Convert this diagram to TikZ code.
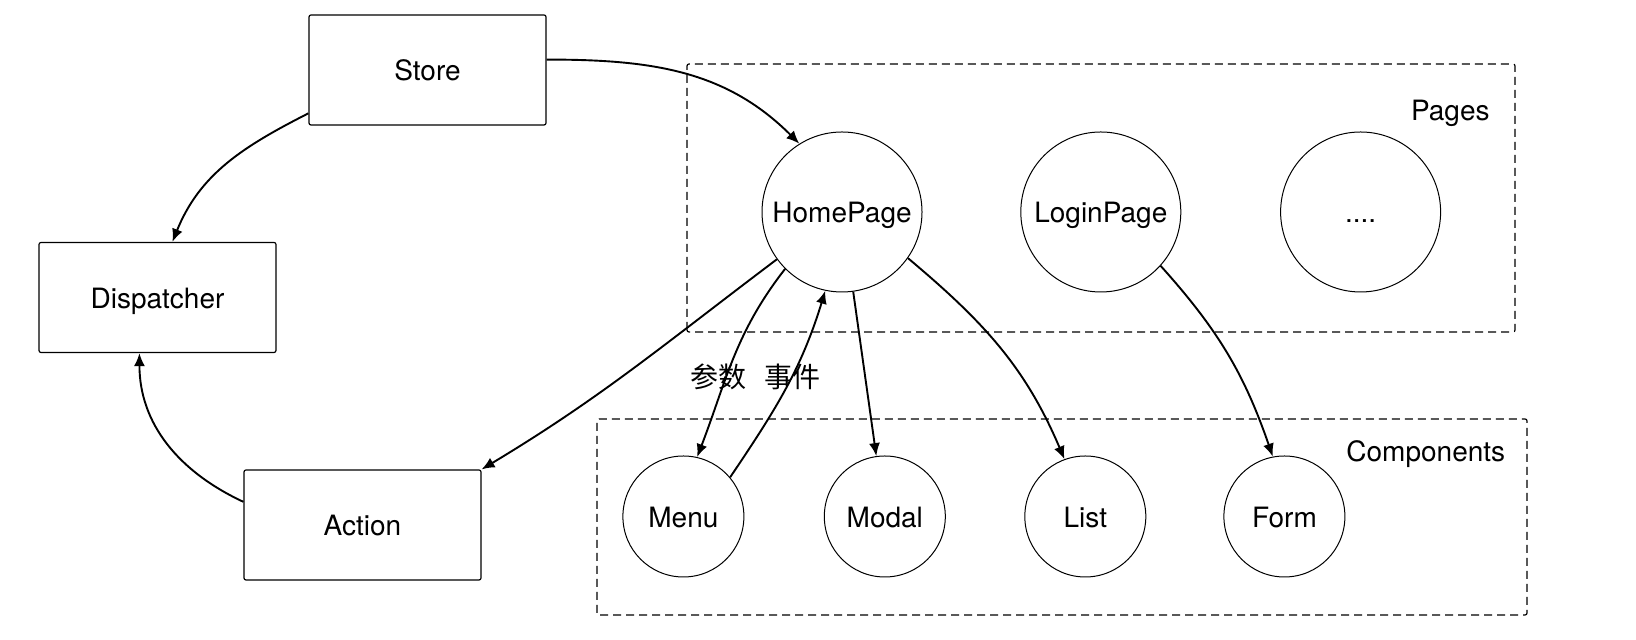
\documentclass[tikz,border=0pt]{standalone}
\usepackage{fontspec}
\setmainfont{TeX Gyre Heros}
\newfontfamily\cjk{Noto Sans CJK SC}
\usetikzlibrary{arrows.meta}
\begin{document}
\begin{tikzpicture}[x=0.5pt,y=0.5pt,
  font=\fontsize{14pt}{16pt}\selectfont,
  boxnode/.style={draw,line width=0.6pt,rounded corners=1pt,minimum width=118.5pt,minimum height=55pt,inner sep=0pt,text height=12pt,text depth=1pt},
  bigcirc/.style={draw,circle,line width=0.5pt,minimum size=80pt,inner sep=0pt,text height=12pt,text depth=1pt},
  smallcirc/.style={draw,circle,line width=0.5pt,minimum size=60.5pt,inner sep=0pt,text height=12pt,text depth=1pt},
  groupbox/.style={draw,line width=0.6pt,dash pattern=on 4pt off 2.5pt,rounded corners=1pt},
  conn/.style={line width=0.95pt,-{Latex[length=6.5pt,width=5.5pt]}},
  lbl/.style={inner sep=0pt}
]
\useasboundingbox (0,0) rectangle (1636,640);
% group boxes
\draw[groupbox] (687,308) rectangle (1515,576);
\draw[groupbox] (597,25) rectangle (1527,221);
\node[lbl,anchor=east] (pageslbl) at (1490,527) {Pages};
\node[lbl,anchor=east] (complbl) at (1505.6,186) {Components};
% boxes
\node[boxnode] (store) at (427.5,570) {Store};
\node[boxnode] (disp) at (157.5,342.5) {Dispatcher};
\node[boxnode] (action) at (362.5,115) {Action};
% pages
\node[bigcirc] (home) at (842,428) {HomePage};
\node[bigcirc] (login) at (1100.8,428) {LoginPage};
\node[bigcirc] (more) at (1360.6,428) {....};
% components
\node[smallcirc] (menu) at (683.4,123.5) {Menu};
\node[smallcirc] (modal) at (884.8,123.5) {Modal};
\node[smallcirc] (list) at (1085.3,123.5) {List};
\node[smallcirc] (form) at (1284.4,123.5) {Form};
% chinese labels
\node[lbl] (canshu) at (718,263.3) {\cjk 参数};
\node[lbl] (shijian) at (792,263.3) {\cjk 事件};
% connectors
\draw[conn] (store.5) to[out=0,in=135] (home.122);
\draw[conn] (store.200) to[out=207,in=68] (disp.75);
\draw[conn] (action.169) to[out=155,in=270] (disp.252);
\draw[conn] (home.216) to[out=217,in=31] (action.north east);
\draw[conn] (home.225) to[out=232,in=69] (menu.77);
\draw[conn] (menu.40) to[out=56,in=253] (home.258);
\draw[conn] (home) -- (modal);
\draw[conn] (home.325) to[out=-40,in=113] (list.110);
\draw[conn] (login.318) to[out=-48,in=109] (form.101);
\end{tikzpicture}
\end{document}
